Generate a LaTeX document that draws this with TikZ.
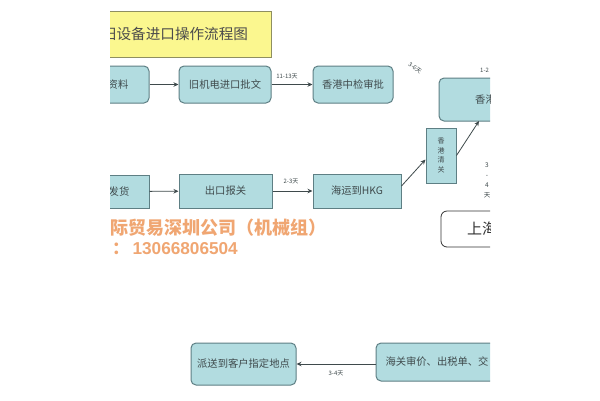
\documentclass[tikz,border=0pt]{standalone}
\usepackage{fontspec}
\setmainfont{Noto Sans CJK SC}
\newfontfamily\numfont{Liberation Sans}
\usetikzlibrary{arrows.meta}
\definecolor{boxfill}{HTML}{B2DCE0}
\definecolor{boxline}{HTML}{5E7F84}
\definecolor{lbl}{HTML}{3F4A4C}
\definecolor{orangetxt}{HTML}{F0A672}
\definecolor{titlefill}{HTML}{FBF78F}
\definecolor{titleline}{HTML}{8F8F60}
\tikzset{
  base/.style={draw=boxline,fill=boxfill,line width=1pt,inner sep=0pt,text=lbl,font=\fontsize{10.3}{12}\selectfont},
  rbox/.style={base,rounded corners=5pt},
  sbox/.style={base},
  flow/.style={draw=lbl,line width=0.8pt,-{Stealth[length=5pt,width=4.5pt]}},
  days/.style={text=lbl,inner sep=0pt,font=\fontsize{6}{7}\selectfont},
}
\begin{document}
\begin{tikzpicture}[x=1pt,y=-1pt]
\useasboundingbox (0,0) rectangle (600,400);
\fill[white] (0,0) rectangle (600,400);
\begin{scope}
\clip (110,0) rectangle (490,400);
\node[draw=titleline,fill=titlefill,line width=1pt,inner sep=0pt,minimum width=192pt,minimum height=46pt,text=black!70,font=\fontsize{14.6}{16}\selectfont] (title) at (175,34) {旧设备进口操作流程图};
\node[rbox,minimum width=62pt,minimum height=37pt] (ziliao) at (118,84.5) {资料};
\node[rbox,minimum width=92pt,minimum height=37pt] (pizhun) at (225,84.5) {旧机电进口批文};
\node[rbox,minimum width=80pt,minimum height=37pt] (shenpi) at (353,84.5) {香港中检审批};
\node[rbox,minimum width=93pt,minimum height=43pt] (xg) at (485.5,99.5) {香港};
\node[sbox,minimum width=60pt,minimum height=33pt] (fahuo) at (119,191.5) {发货};
\node[sbox,minimum width=93pt,minimum height=34pt] (baoguan) at (225.5,191) {出口报关};
\node[sbox,minimum width=88pt,minimum height=34pt] (haiyun) at (357,191) {海运到HKG};
\node[sbox,minimum width=30pt,minimum height=55pt,align=center,font=\fontsize{7}{9.5}\selectfont] (qingguan) at (441,155.5) {香\\港\\清\\关};
\node[draw=black!80,fill=white,line width=0.8pt,rounded corners=6pt,inner sep=0pt,minimum width=82pt,minimum height=36pt,font=\fontsize{15}{17}\selectfont,text=black!80] (sh) at (482,229) {上海};
\node[rbox,minimum width=105pt,minimum height=42pt] (paisong) at (243.5,364) {派送到客户指定地点};
\node[rbox,minimum width=122pt,minimum height=38pt] (shenjia) at (437,362) {海关审价、出税单、交};
\coordinate (xgin) at (479,121);
\draw[flow] (ziliao) -- (pizhun);
\draw[flow] (pizhun) -- (shenpi);
\draw[flow] (fahuo) -- (baoguan);
\draw[flow] (baoguan) -- (haiyun);
\draw[flow] ([yshift=5pt]haiyun.east) -- ([yshift=-4pt]qingguan.west);
\draw[flow] (qingguan.east) -- (xgin);
\draw[flow,line width=1pt] (shenjia.west |- paisong.east) -- (paisong.east);
\node[days] (d1) at (287,76) {11-13天};
\node[days] (d2) at (291,181) {2-3天};
\node[days,rotate=-35] (d3) at (415,68) {3-6天};
\node[days,anchor=west] (d4) at (480,70) {1-2};
\node[days,align=center,font=\fontsize{6.5}{10}\selectfont] (d5) at (487,180) {3\\-\\4\\天};
\node[days] (d6) at (336,373.5) {3-4天};
\node[anchor=east,text=orangetxt,inner sep=0pt,font=\fontsize{18}{20}\selectfont\bfseries] (co) at (327,228) {国际贸易深圳公司（机械组）};
\node[anchor=east,text=orangetxt,inner sep=0pt,font=\fontsize{17.2}{19}\selectfont\bfseries] (tel) at (238,249) {：\hspace{3pt}{\numfont\bfseries 13066806504}};
\end{scope}
\end{tikzpicture}
\end{document}
